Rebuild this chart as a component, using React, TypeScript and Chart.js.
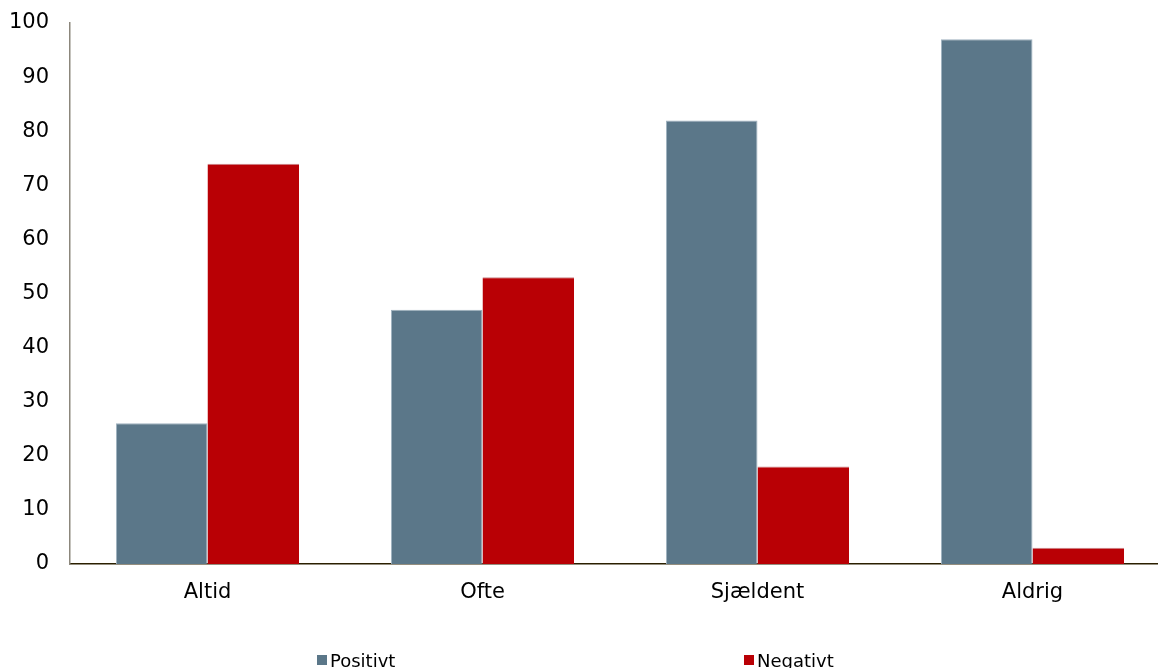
import React, { useEffect, useRef } from "react";
import { Chart, registerables } from "chart.js";

Chart.register(...registerables);

const categories = ["Altid", "Ofte", "Sjældent", "Aldrig"];
const positivtValues = [26, 47, 82, 97];
const negativtValues = [74, 53, 18, 3];
const seriesLabels = ["Positivt", "Negativt"];
const seriesColors = ["#5B7789", "#B90005"];
const yTicks = [0, 10, 20, 30, 40, 50, 60, 70, 80, 90, 100];

const FONT = "'DejaVu Sans', Verdana, sans-serif";

const legendPlugin = {
  id: "customLegend",
  afterDraw(chart: any) {
    const ctx = chart.ctx;
    const xs = [317, 744];
    const y = 660;
    ctx.save();
    ctx.font = `18px ${FONT}`;
    ctx.textBaseline = "middle";
    ctx.textAlign = "left";
    chart.data.datasets.forEach((ds: any, i: number) => {
      const x = xs[i];
      ctx.fillStyle = ds.backgroundColor;
      ctx.fillRect(x, y - 5, 10, 10);
      ctx.fillStyle = "#000";
      ctx.fillText(ds.label, x + 13, y + 2);
    });
    ctx.restore();
  },
};

export default function App() {
  const ref = useRef<HTMLCanvasElement>(null);
  useEffect(() => {
    document.body.style.margin = "0";
    const chart = new Chart(ref.current!, {
      type: "bar",
      data: {
        labels: categories,
        datasets: [
          {
            label: seriesLabels[0],
            data: positivtValues,
            backgroundColor: seriesColors[0],
            borderColor: "#9FB2BF",
            borderWidth: { top: 1, left: 1, right: 1, bottom: 0 },
          },
          {
            label: seriesLabels[1],
            data: negativtValues,
            backgroundColor: seriesColors[1],
            borderColor: "#C9878A",
            borderWidth: { top: 1, left: 0, right: 0, bottom: 0 },
          },
        ],
      },
      options: {
        animation: false,
        responsive: false,
        maintainAspectRatio: false,
        layout: { padding: { top: 23, right: 8, left: 0, bottom: 0 } },
        plugins: {
          legend: { display: false },
          tooltip: { enabled: false },
        },
        datasets: {
          bar: { barPercentage: 1, categoryPercentage: 0.666 },
        },
        scales: {
          x: {
            grid: { display: false, drawTicks: false },
            border: { display: true, color: "#2B1F00", width: 1.5 },
            ticks: {
              color: "#000",
              font: { family: FONT, size: 21 },
              padding: 16,
            },
            afterFit(scale: any) {
              scale.height = 104;
              scale.paddingLeft = 0;
              scale.paddingRight = 0;
            },
          },
          y: {
            min: 0,
            max: 100,
            afterBuildTicks(scale: any) {
              scale.ticks = yTicks.map((v) => ({ value: v }));
            },
            grid: { display: false, drawTicks: false },
            border: { display: true, color: "#8C877C", width: 1.5 },
            ticks: {
              color: "#000",
              font: { family: FONT, size: 21 },
              padding: 21,
            },
            afterFit(scale: any) {
              scale.width = 70;
              scale.paddingTop = 0;
              scale.paddingBottom = 0;
            },
          },
        },
      },
      plugins: [legendPlugin],
    });
    return () => chart.destroy();
  }, []);
  return (
    <div style={{ width: 1158, height: 668, overflow: "hidden" }}>
      <canvas ref={ref} width={1178} height={668} style={{ display: "block" }} />
    </div>
  );
}
